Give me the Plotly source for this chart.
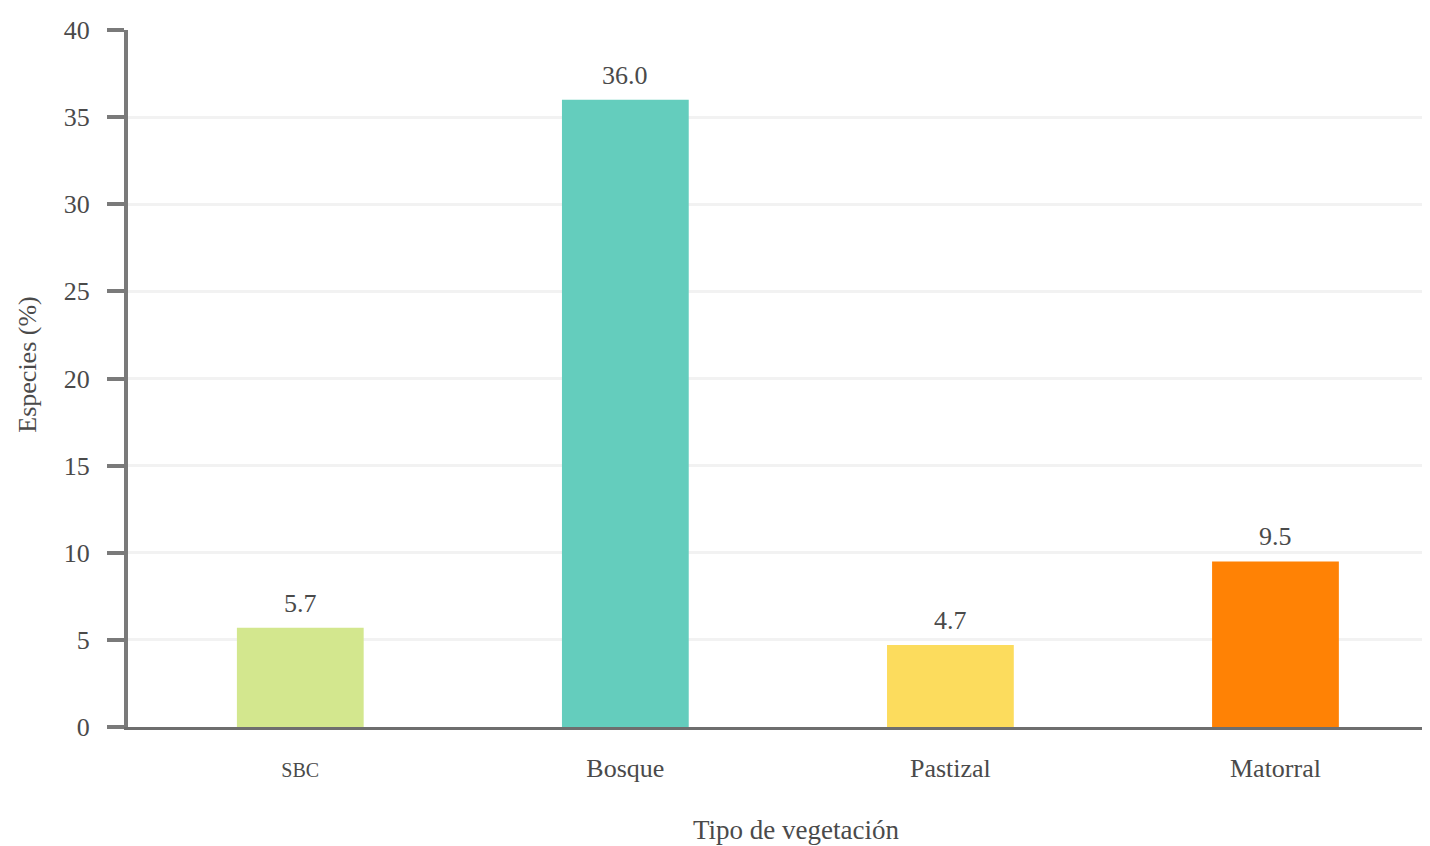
import plotly.graph_objects as go

categories = ["SBC", "Bosque", "Pastizal", "Matorral"]
values = [5.7, 36.0, 4.7, 9.5]
labels = ["5.7", "36.0", "4.7", "9.5"]
colors = ["#d3e78e", "#64cdbd", "#fcdc5d", "#ff8205"]
ytick_vals = [0, 5, 10, 15, 20, 25, 30, 35, 40]

FONT = "Liberation Serif"
TXT = "#4a4a4a"

fig = go.Figure(go.Bar(
    x=categories, y=values,
    marker=dict(color=colors, line=dict(width=0)),
    cliponaxis=False, width=0.39,
))

for c, v, t in zip(categories, values, labels):
    fig.add_annotation(x=c, y=v, text=t, showarrow=False, yanchor="bottom",
                       yshift=8, font=dict(family=FONT, size=26, color=TXT))

fig.add_annotation(text="Especies (%)", xref="paper", yref="paper",
                   x=-0.077, y=0.52, textangle=-90, showarrow=False,
                   xanchor="center", yanchor="middle",
                   font=dict(family=FONT, size=26, color=TXT))
fig.add_annotation(text="Tipo de vegetación", xref="paper", yref="paper",
                   x=0.51, y=-0.148, showarrow=False,
                   xanchor="center", yanchor="middle",
                   font=dict(family=FONT, size=27, color=TXT))

fig.update_layout(
    width=1430, height=838,
    margin=dict(l=120, r=0, t=22, b=119, autoexpand=False),
    paper_bgcolor="white", plot_bgcolor="white",
    font=dict(family=FONT, size=26, color=TXT),
    showlegend=False,
    xaxis=dict(
        range=[-0.53, 3.5],
        tickvals=categories,
        ticktext=['<span style="font-size:20px">SBC</span>', "Bosque", "Pastizal", "Matorral"],
        tickfont=dict(size=26, color=TXT),
        ticklabelstandoff=16,
        showline=True, linecolor="#6e6e6e", linewidth=3,
        ticks="", showgrid=False, automargin=False,
    ),
    yaxis=dict(
        range=[0, 40], tickvals=ytick_vals,
        tickfont=dict(size=26, color=TXT),
        ticklabelstandoff=12,
        showline=True, linecolor="#7a7a7a", linewidth=4,
        ticks="outside", ticklen=17, tickwidth=4, tickcolor="#7a7a7a",
        showgrid=True, gridcolor="#f2f2f2", gridwidth=3,
        zeroline=False, automargin=False,
    ),
)

fig.write_html("out.html")
